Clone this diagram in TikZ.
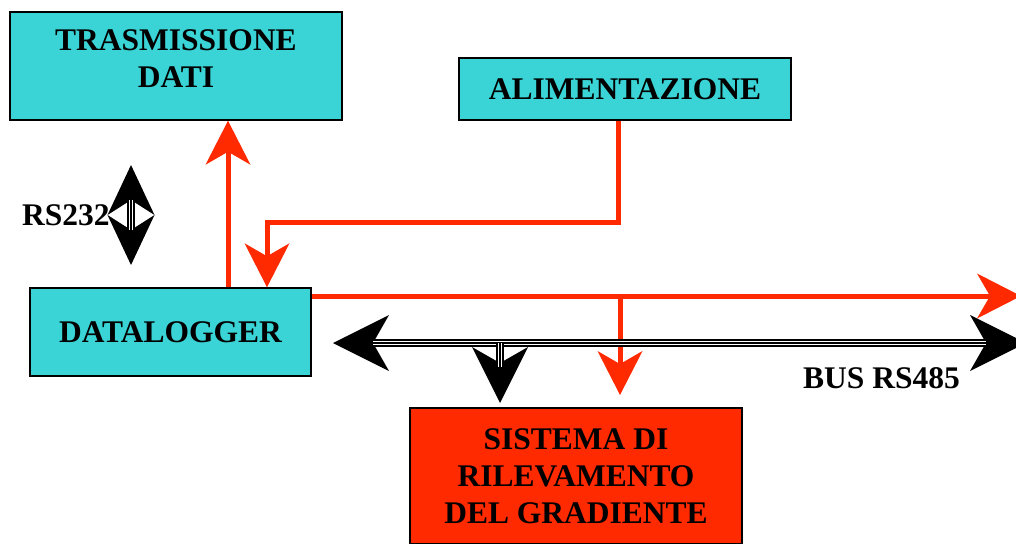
\documentclass[tikz,border=0pt]{standalone}
\usepackage{fontspec}
\setmainfont{Liberation Serif}
\usetikzlibrary{arrows.meta,calc}
\definecolor{boxcyan}{HTML}{3AD4D6}
\definecolor{flowred}{HTML}{FF2A00}
\tikzset{box/.style={draw=black, line width=1.5pt, fill=boxcyan, inner sep=0pt, align=center, font=\fontsize{31.5}{37}\selectfont\bfseries}}
\tikzset{label/.style={inner sep=0pt, font=\fontsize{31.5}{37}\selectfont\bfseries}}
\tikzset{power/.style={flowred, line width=5pt, -{Stealth[length=44pt,width=45pt,inset=13pt,line width=0pt]}}}
\tikzset{bus/.style={black, line width=1.1pt, preaction={draw, line width=1.8pt, double=white, double distance=4.2pt}}}
\tikzset{bushead/.style={-{Stealth[length=56pt,width=56pt,inset=16pt,line width=0pt]}, line width=0.8pt}}
\tikzset{rshead/.style={-{Stealth[length=50pt,width=47pt,inset=15pt,line width=0pt]}, line width=0.8pt}}

\begin{document}
\begin{tikzpicture}[x=1pt,y=-1pt]
\useasboundingbox (0,0) rectangle (1016,543);
\clip (0,0) rectangle (1016,543);

\node (trasm) at (176,66)[box, minimum width=332pt, minimum height=108pt, text depth=14pt]{TRASMISSIONE\\DATI};
\node (alim) at (625,89)[box, minimum width=332pt, minimum height=62pt]{ALIMENTAZIONE};
\node (dlog) at (170.5,332)[box, minimum width=281pt, minimum height=88pt]{DATALOGGER};
\node (sist) at (576,476)[box, fill=flowred, minimum width=332pt, minimum height=136pt]{SISTEMA DI\\RILEVAMENTO\\DEL GRADIENTE};
\node (rs232) at (22,225)[label, anchor=base west]{RS232};
\node (rs485) at (803,388)[label, anchor=base west]{BUS RS485};

%alimentazione e dati
\draw[power] (dlog.north -| 228,0)--(trasm.south -| 228,0);
\draw[power] (alim.south -| 618,0)--(618,222)--(267,222)--(dlog.north -| 267,0);
\coordinate (pj) at (620,296);
\coordinate (pr) at (1021,296);
\draw[power] (dlog.east |- pj)--(pr);
\draw[power] (pj)--(620,395);

%bus RS485
\coordinate (busl) at (333,343);
\coordinate (busr) at (1026,343);
\coordinate (busj) at (500,343);
\coordinate (busd) at (500,403);
\draw[bushead] (busj)--(busl);
\draw[bushead] (busj)--(busr);
\draw[bushead] ($(busd)-(0,30)$)--(busd);
\draw[bus] ($(busl)+(40,0)$)--($(busr)-(40,0)$);
\draw[bus] (busj)--($(busd)-(0,36)$);

%RS232
\coordinate (rsm) at (131,215);
\coordinate (rsu) at (131,165);
\coordinate (rsd) at (131,265);
\draw[rshead] (rsm)--(rsu);
\draw[rshead] (rsm)--(rsd);
\draw[bus] ($(rsm)-(0,15)$)--($(rsm)+(0,15)$);

\end{tikzpicture}
\end{document}
